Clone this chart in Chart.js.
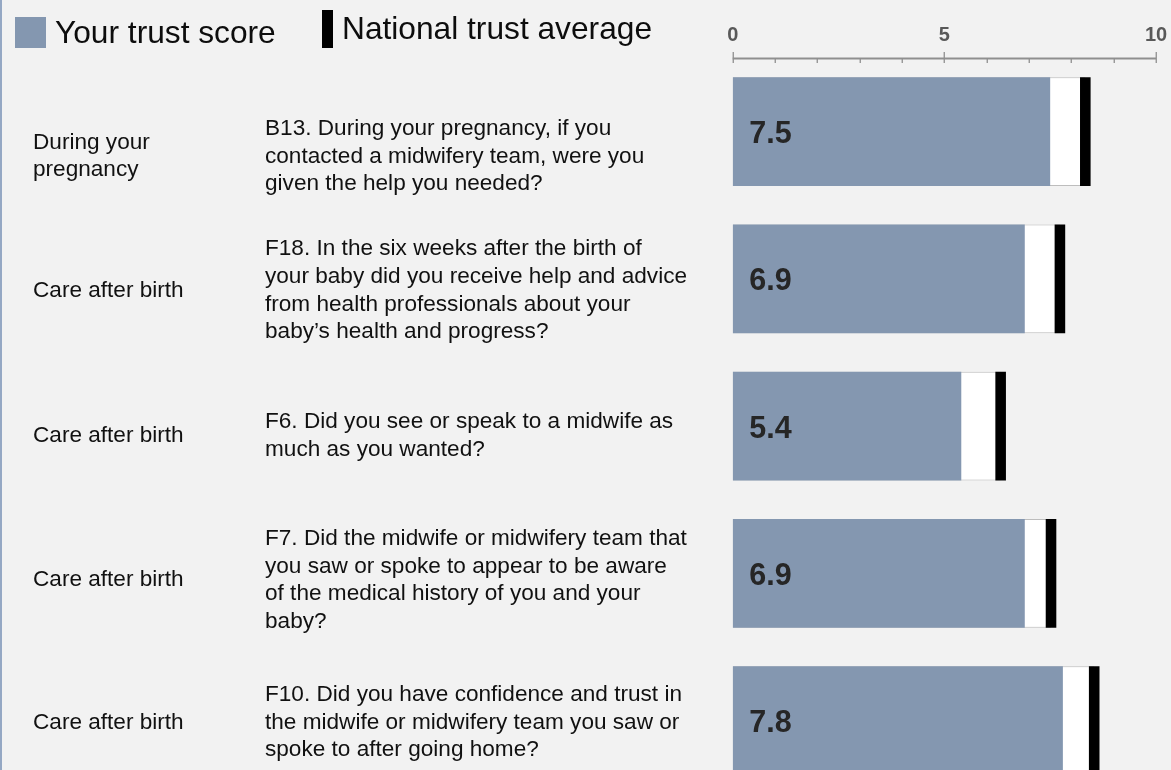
<!DOCTYPE html>
<html>
<head>
<meta charset="utf-8">
<script src="https://cdn.jsdelivr.net/npm/chart.js@4"></script>
<style>
  html, body { margin: 0; padding: 0; background: #f2f2f2; overflow: hidden; }
  #wrap { width: 1171px; height: 770px; overflow: hidden; }
</style>
</head>
<body>
<div id="wrap"><canvas id="chart" width="1171" height="800"></canvas></div>
<script>
const sections = [
  ['During your', 'pregnancy'],
  ['Care after birth'],
  ['Care after birth'],
  ['Care after birth'],
  ['Care after birth']
];
const questions = [
  ['B13. During your pregnancy, if you', 'contacted a midwifery team, were you', 'given the help you needed?'],
  ['F18. In the six weeks after the birth of', 'your baby did you receive help and advice', 'from health professionals about your', 'baby\u2019s health and progress?'],
  ['F6. Did you see or speak to a midwife as', 'much as you wanted?'],
  ['F7. Did the midwife or midwifery team that', 'you saw or spoke to appear to be aware', 'of the medical history of you and your', 'baby?'],
  ['F10. Did you have confidence and trust in', 'the midwife or midwifery team you saw or', 'spoke to after going home?']
];
const trustScores = [7.5, 6.9, 5.4, 6.9, 7.8];
const nationalAverage = [8.33, 7.73, 6.33, 7.52, 8.54];
const tickLabels = ['0', '5', '10'];
const legendLabels = ['Your trust score', 'National trust average'];

const FONT = '"Liberation Sans", Arial, sans-serif';
const BLUE = '#8497b0';
const rowTextShift = [31, 18, 16, 13, 8]; // text rows sit a little below the bars
const markerHalf = 0.125;

// draws background, legend, axis, value labels and the row texts
const decor = {
  id: 'decor',
  beforeDraw(chart) {
    const ctx = chart.ctx;
    ctx.save();
    ctx.fillStyle = '#f2f2f2';
    ctx.fillRect(0, 0, chart.width, chart.height);
    ctx.fillStyle = '#95a8c4';
    ctx.fillRect(0, 0, 2, chart.height);
    ctx.restore();
  },
  afterDatasetsDraw(chart) {
    const ctx = chart.ctx;
    const x = chart.scales.x;
    const y = chart.scales.y;
    ctx.save();

    // legend
    ctx.fillStyle = BLUE;
    ctx.fillRect(15, 17, 31, 31);
    ctx.fillStyle = '#000';
    ctx.fillRect(322, 10, 11, 38);
    ctx.font = '31.7px ' + FONT;
    ctx.textAlign = 'left';
    ctx.textBaseline = 'alphabetic';
    ctx.fillStyle = '#0d0d0d';
    ctx.fillText(legendLabels[0], 55, 43);
    ctx.fillText(legendLabels[1], 342, 39);

    // top axis
    const axisY = 58.5;
    ctx.strokeStyle = '#8f8f8f';
    ctx.lineWidth = 2;
    ctx.beginPath();
    ctx.moveTo(x.getPixelForValue(0), axisY);
    ctx.lineTo(x.getPixelForValue(10), axisY);
    ctx.stroke();
    ctx.lineWidth = 1.3;
    for (let v = 0; v <= 10; v++) {
      const px = Math.round(x.getPixelForValue(v)) + 0.25;
      ctx.beginPath();
      ctx.moveTo(px, v % 5 === 0 ? 52 : axisY);
      ctx.lineTo(px, 63);
      ctx.stroke();
    }
    ctx.font = 'bold 20px ' + FONT;
    ctx.fillStyle = '#595959';
    ctx.textAlign = 'center';
    tickLabels.forEach(t => {
      ctx.fillText(t, x.getPixelForValue(Number(t)), 41);
    });

    // value labels inside bars
    ctx.font = 'bold 30.5px ' + FONT;
    ctx.fillStyle = '#262626';
    ctx.textAlign = 'left';
    trustScores.forEach((s, i) => {
      ctx.fillText(s.toFixed(1), x.getPixelForValue(0) + 16.5, y.getPixelForValue(i) + 11.5);
    });

    // row texts
    ctx.font = '22.6px ' + FONT;
    ctx.fillStyle = '#111';
    const lineH = 27.6;
    const drawBlock = (lines, left, mid) => {
      lines.forEach((ln, k) => {
        ctx.fillText(ln, left, mid + (k - (lines.length - 1) / 2) * lineH);
      });
    };
    sections.forEach((lines, i) => {
      const mid = y.getPixelForValue(i) + rowTextShift[i];
      drawBlock(lines, 33, mid);
      drawBlock(questions[i], 265, mid);
    });
    ctx.restore();
  }
};

new Chart(document.getElementById('chart'), {
  type: 'bar',
  data: {
    labels: sections.map(s => s.join(' ')),
    datasets: [
      {
        label: legendLabels[1],
        data: nationalAverage.map(v => [v - markerHalf, v + markerHalf]),
        backgroundColor: '#000',
        order: 0
      },
      {
        label: legendLabels[0],
        data: trustScores,
        backgroundColor: BLUE,
        order: 1
      },
      {
        label: 'average background',
        data: nationalAverage,
        backgroundColor: '#ffffff',
        borderColor: '#bdbdbd',
        borderWidth: 1,
        borderSkipped: false,
        order: 2
      }
    ]
  },
  options: {
    indexAxis: 'y',
    responsive: false,
    animation: false,
    devicePixelRatio: 1,
    layout: { padding: { left: 732.7, right: 15, top: 58, bottom: 5.75 } },
    datasets: {
      bar: { grouped: false, barPercentage: 0.74, categoryPercentage: 1 }
    },
    scales: {
      x: { display: false, min: 0, max: 10 },
      y: { display: false }
    },
    plugins: {
      legend: { display: false },
      tooltip: { enabled: false }
    }
  },
  plugins: [decor]
});
</script>
</body>
</html>
